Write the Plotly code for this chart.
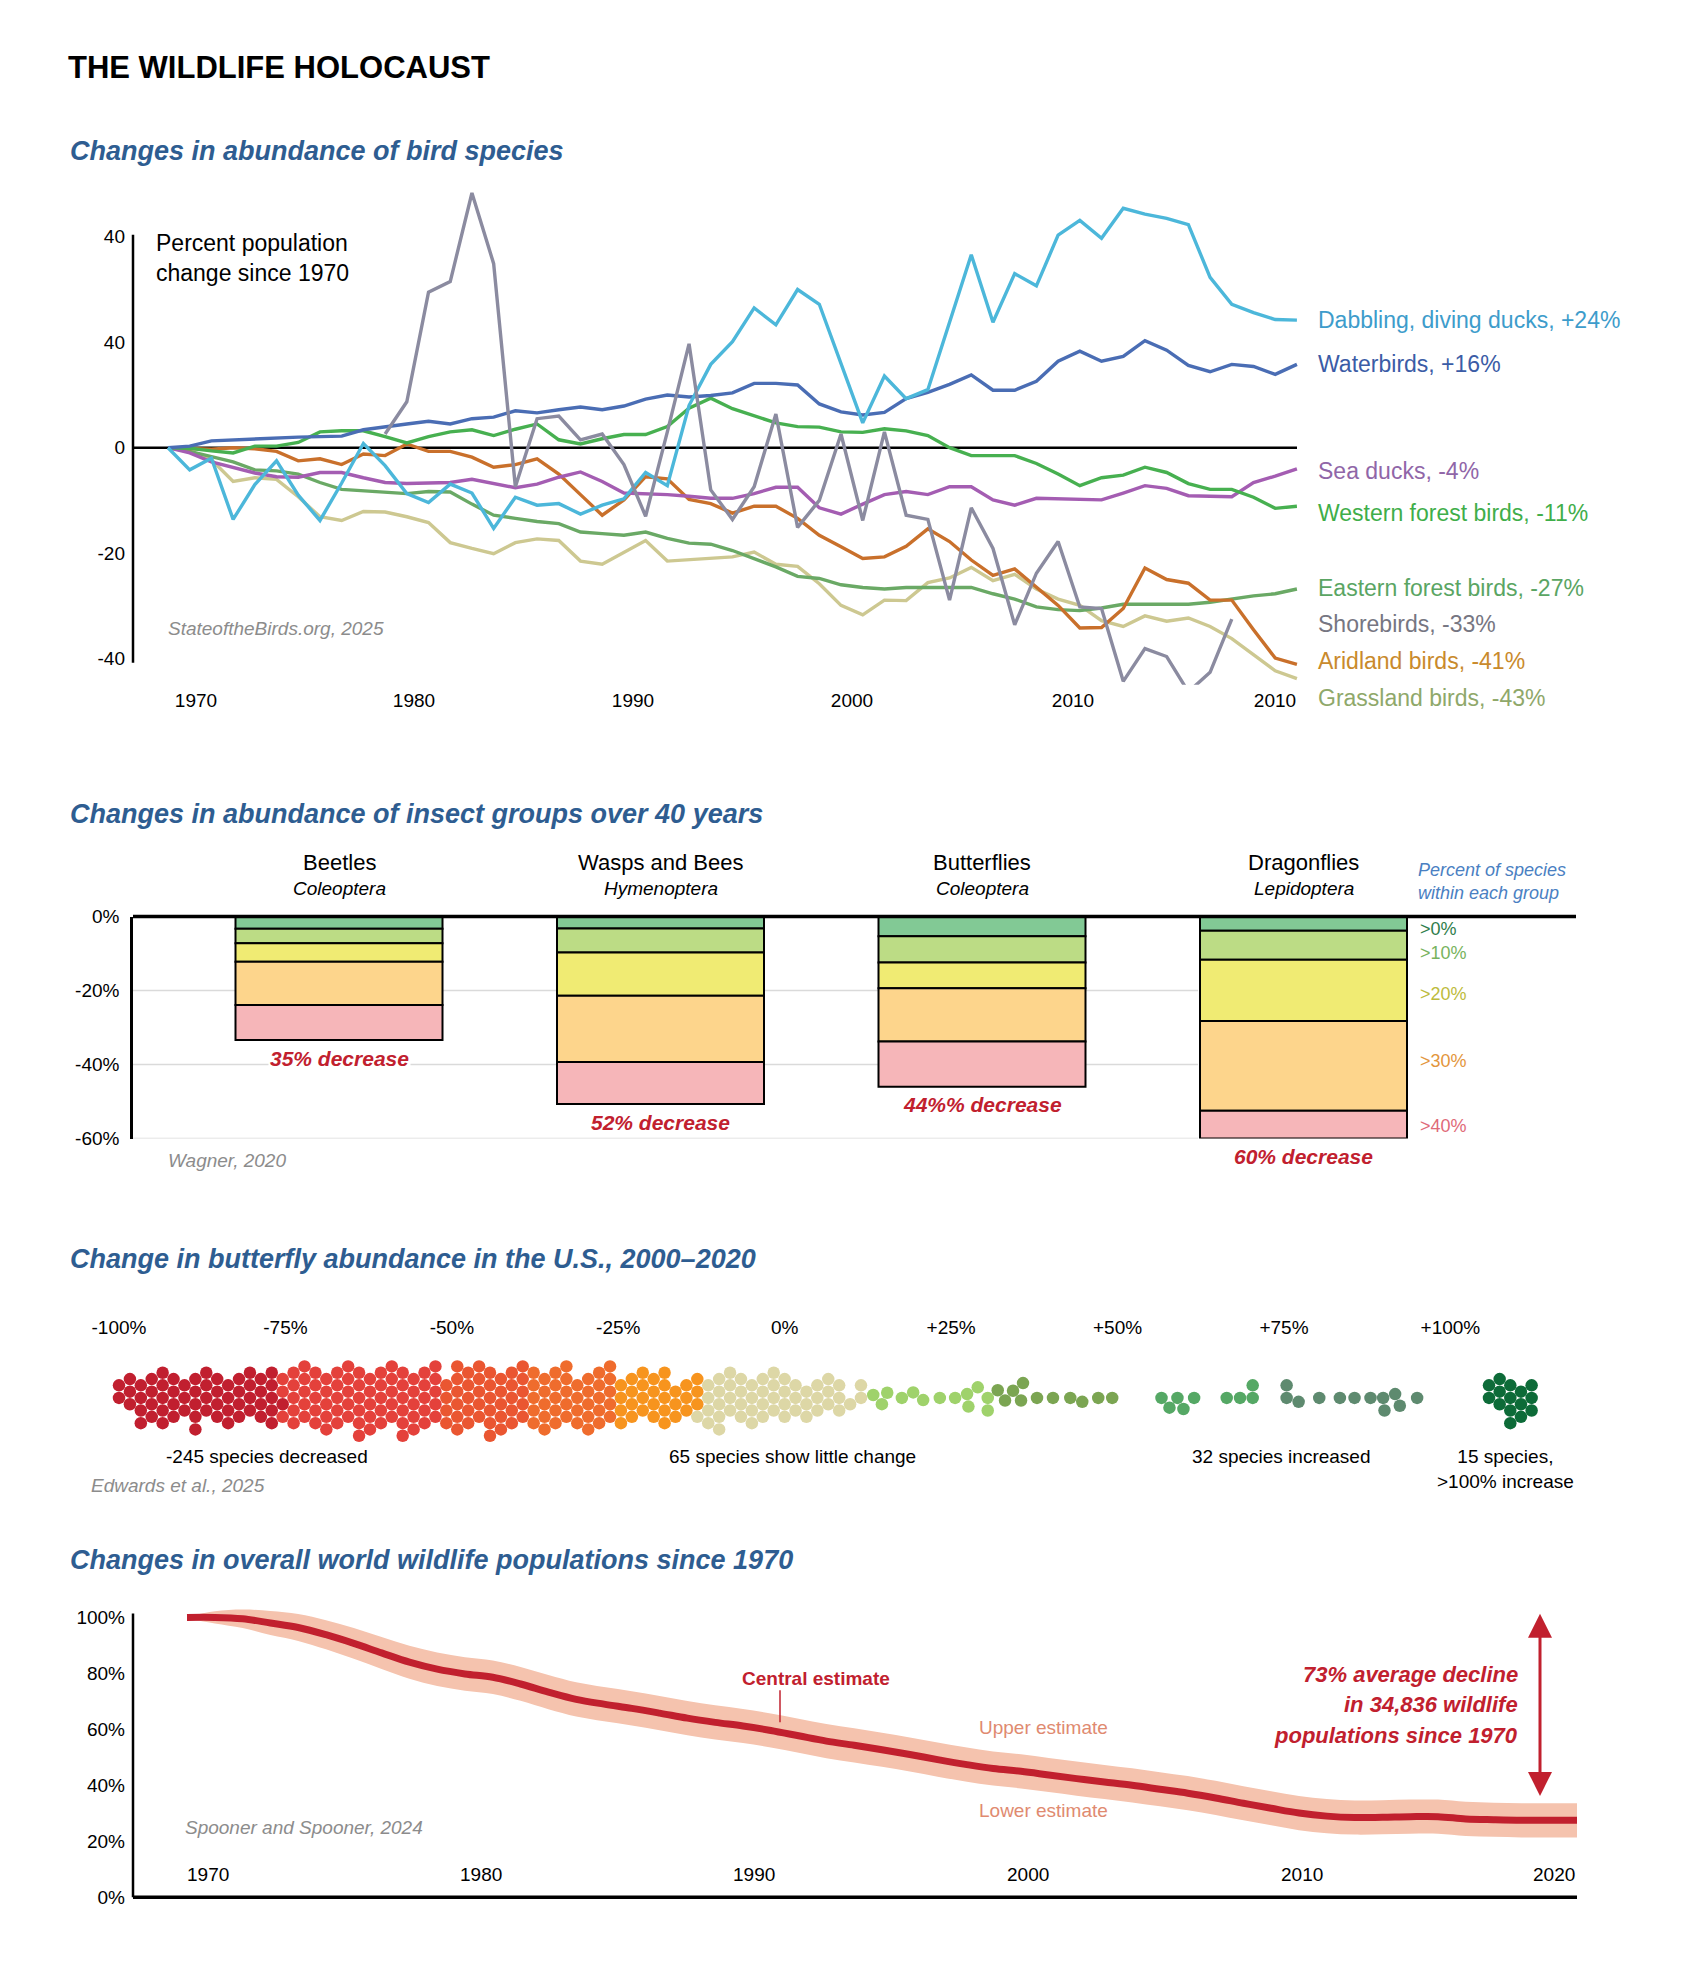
import math
import plotly.graph_objects as go

W, H = 1682, 1984
FONT = "Liberation Sans, Arial, Helvetica, sans-serif"

# ======================= DATA =======================
# --- Birds: percent population change since 1970 ---
bird_years = list(range(1970, 2023))
dabbling = [0, -4.2, -2.0, -13.6, -7.0, -2.5, -9.0, -13.8, -6.7, 0.8,
            -3.4, -8.7, -10.4, -6.9, -8.6, -15.3, -9.4, -10.9, -10.6, -12.6,
            -10.9, -9.7, -4.7, -7.2, 8.0, 15.8, 20.1, 26.5, 23.3, 30.0,
            27.2, 16.0, 4.7, 13.6, 9.3, 11.0, 24.0, 36.6, 23.8, 33.0,
            30.7, 40.3, 43.1, 39.7, 45.4, 44.3, 43.5, 42.3, 32.3, 27.2,
            25.6, 24.3, 24.2]
waterbirds = [0, 0.3, 1.3, 1.5, 1.7, 1.9, 2.0, 2.1, 2.2, 3.4,
              4.0, 4.5, 5.0, 4.5, 5.5, 5.8, 7.0, 6.6, 7.2, 7.7,
              7.2, 7.9, 9.2, 10.0, 9.6, 9.9, 10.4, 12.2, 12.2, 11.9,
              8.3, 6.8, 6.2, 6.7, 9.3, 10.5, 12.0, 13.8, 10.9, 10.9,
              12.6, 16.4, 18.3, 16.4, 17.3, 20.3, 18.5, 15.6, 14.4, 15.8,
              15.4, 13.9, 15.8]
sea_ducks = [0, -1.0, -2.7, -3.8, -4.8, -5.5, -5.6, -4.7, -4.7, -5.7,
             -6.6, -6.8, -6.7, -6.6, -6.0, -6.8, -7.6, -6.9, -5.6, -4.6,
             -6.4, -8.6, -8.7, -8.9, -9.2, -9.6, -9.6, -8.7, -7.5, -7.5,
             -11.4, -12.6, -10.7, -8.9, -8.3, -8.9, -7.4, -7.4, -9.9, -10.9,
             -9.6, -9.7, -9.9, -9.9, -8.6, -7.2, -7.7, -9.1, -9.2, -9.3,
             -6.6, -5.4, -4.0]
western_forest = [0, -0.1, -0.6, -1.0, 0.3, 0.3, 1.0, 3.0, 3.2, 3.2,
                  2.1, 0.9, 2.1, 3.0, 3.4, 2.3, 3.5, 4.5, 1.5, 0.7,
                  1.7, 2.5, 2.5, 4.0, 7.5, 9.4, 7.4, 6.0, 4.7, 4.0,
                  3.9, 3.0, 2.9, 3.6, 3.2, 2.3, 0.0, -1.5, -1.5, -1.5,
                  -3.0, -5.0, -7.2, -5.7, -5.2, -3.7, -4.7, -6.8, -7.9, -7.9,
                  -9.4, -11.5, -11.1]
eastern_forest = [0, -0.7, -1.7, -2.7, -4.2, -4.4, -5.0, -6.6, -7.9, -8.2,
                  -8.4, -8.7, -8.3, -8.4, -10.7, -12.8, -13.4, -14.0, -14.4, -16.0,
                  -16.3, -16.6, -16.0, -17.2, -18.1, -18.3, -19.5, -21.0, -22.6, -24.4,
                  -24.8, -26.0, -26.5, -26.8, -26.5, -26.5, -26.5, -26.5, -27.7, -28.7,
                  -30.2, -30.7, -30.9, -30.4, -29.7, -29.7, -29.7, -29.7, -29.3, -28.7,
                  -28.1, -27.7, -26.8]
shorebirds = [None] * 10 + [
    2.6, 8.7, 29.5, 31.5, 48.3, 34.9, -7.4, 5.5, 6.0, 1.5,
    2.6, -3.2, -13.0, 3.0, 19.7, -8.0, -13.6, -7.4, 6.4, -15.1,
    -10.0, 2.6, -13.8, 3.0, -12.8, -13.6, -28.9, -11.4, -19.1, -33.6,
    -23.8, -17.8, -30.2, -30.5, -44.3, -38.1, -39.6, -46.3, -42.6, -32.5] + [None] * 3
aridland = [0, -0.2, -0.3, 0.0, -0.2, -0.7, -2.5, -2.1, -3.2, -1.2,
            -1.5, 0.7, -0.7, -0.7, -1.8, -3.7, -3.2, -2.1, -5.0, -8.9,
            -12.8, -9.9, -5.5, -5.9, -9.8, -10.6, -12.4, -11.1, -11.1, -13.4,
            -16.6, -18.8, -21.0, -20.7, -18.7, -15.4, -17.8, -21.3, -24.2, -23.0,
            -26.5, -29.9, -34.2, -34.1, -30.5, -22.8, -25.0, -25.7, -28.9, -28.9,
            -34.5, -39.9, -41.1]
grassland = [0, -0.8, -2.3, -6.4, -5.7, -6.0, -9.3, -13.1, -13.8, -12.1,
             -12.2, -13.1, -14.2, -18.0, -19.1, -20.1, -18.0, -17.3, -17.6, -21.5,
             -22.1, -19.9, -17.6, -21.5, -21.2, -21.0, -20.7, -19.8, -22.1, -22.5,
             -25.8, -29.9, -31.7, -28.9, -29.0, -25.6, -24.7, -22.7, -25.2, -24.0,
             -26.8, -28.7, -29.9, -32.8, -33.9, -31.9, -32.9, -32.3, -33.9, -36.2,
             -39.3, -42.3, -43.8]
bird_labels = ["Dabbling, diving ducks, +24%", "Waterbirds, +16%", "Sea ducks, -4%",
               "Western forest birds, -11%", "Eastern forest birds, -27%",
               "Shorebirds, -33%", "Aridland birds, -41%", "Grassland birds, -43%"]
bird_xtick_text = ["1970", "1980", "1990", "2000", "2010", "2010"]
bird_ytick_vals = [-40, -20, 0, 20, 40]
bird_ytick_text = ["-40", "-20", "0", "40", "40"]

# --- Insects: lower edge (percent) of each tier, per group ---
insect_groups = ["Beetles", "Wasps and Bees", "Butterflies", "Dragonflies"]
insect_latin = ["Coleoptera", "Hymenoptera", "Coleoptera", "Lepidoptera"]
tier_names = [">0%", ">10%", ">20%", ">30%", ">40%"]
bottom_gt0 = [-3.3, -3.2, -5.3, -3.8]
bottom_gt10 = [-7.2, -9.7, -12.4, -11.7]
bottom_gt20 = [-12.2, -21.4, -19.4, -28.2]
bottom_gt30 = [-23.9, -39.3, -33.8, -52.5]
bottom_gt40 = [-33.4, -50.7, -46.0, -60.0]
decrease_labels = ["35% decrease", "52% decrease", "44%% decrease", "60% decrease"]
insect_ytick_vals = [0, -20, -40, -60]
insect_ytick_text = ["0%", "-20%", "-40%", "-60%"]

# --- Butterflies: percent change per species (1% bins + counts for dense part) ---
dk_red_bins = list(range(-100, -75))
dk_red_counts = [1, 2, 2, 3, 2, 3, 2, 3, 2, 3, 2, 3, 2, 3, 2, 3, 2, 3, 2, 3, 2, 3, 2, 3, 2]
red_bins = list(range(-75, -51))
red_counts = [3, 3, 3, 3, 3, 4, 3, 3, 3, 3, 3, 4, 3, 3, 3, 3, 3, 4, 3, 3, 3, 3, 3, 3]
verm_bins = list(range(-51, -38))
verm_counts = [3, 3, 4, 3, 3, 3, 3, 4, 3, 3, 3, 3, 3]
orred_bins = list(range(-38, -25))
orred_counts = [3, 3, 3, 3, 3, 3, 3, 3, 3, 3, 3, 3, 3]
orange_bins = list(range(-25, -12))
orange_counts = [2, 3, 2, 3, 2, 3, 2, 3, 2, 2, 2, 2, 2]
beige_bins = list(range(-12, 13))
beige_counts = [3, 3, 3, 2, 3, 2, 3, 2, 3, 2, 3, 2, 2, 2, 2, 2, 2, 2, 2, 1, 2, 1, 1, 1, 1]
lt_green_vals = [13.3, 14.6, 15.4, 17.6, 19.3, 20.8, 23.3, 25.6, 27.4, 27.6, 29.0, 30.5, 30.5]
olive_vals = [32.0, 33.1, 34.3, 35.5, 35.8, 37.9, 40.3, 42.9, 44.7, 47.1, 49.2]
mid_green_vals = [56.6, 57.8, 59.0, 59.9, 61.5, 66.4, 68.4, 70.3, 70.3]
gray_green_vals = [75.4, 75.4, 77.2, 80.3, 83.4, 85.6, 88.0, 89.9, 90.1, 91.7, 92.4, 95.0]
dk_green_vals = [105.8, 105.8, 107.4, 107.4, 107.4, 109.0, 109.0, 109.0, 109.0,
                 110.6, 110.6, 110.6, 112.2, 112.2, 112.2]
butterfly_tick_vals = [-100, -75, -50, -25, 0, 25, 50, 75, 100]
butterfly_tick_text = ["-100%", "-75%", "-50%", "-25%", "0%", "+25%", "+50%", "+75%", "+100%"]

# --- World wildlife (Living Planet Index), percent of 1970 ---
wl_years = list(range(1970, 2021))
wl_central = [100, 100, 99.5, 98, 96.4, 93.8, 90.7, 87.3, 84, 81.5,
              79.8, 78.6, 76.2, 73.3, 70.7, 69, 67.5, 65.8, 64, 62.5,
              61.2, 59.6, 57.7, 55.8, 54.3, 52.7, 51, 49.2, 47.5, 46,
              45, 43.7, 42.4, 41.2, 40, 38.6, 37.2, 35.5, 33.6, 31.8,
              30.1, 29, 28.5, 28.6, 28.8, 28.8, 28, 27.7, 27.5, 27.5,
              27.5]
wl_upper = [100.3, 102.2, 102.8, 102.3, 101.2, 99.0, 96.2, 93.0, 89.9, 87.5,
            85.8, 84.6, 82.3, 79.4, 76.8, 75.1, 73.6, 71.9, 70.1, 68.6,
            67.3, 65.7, 63.8, 61.9, 60.4, 58.8, 57.1, 55.3, 53.6, 52.1,
            51.1, 49.8, 48.5, 47.3, 46.1, 44.7, 43.3, 41.6, 39.7, 37.9,
            36.2, 35.1, 34.6, 34.7, 34.9, 34.9, 34.1, 33.8, 33.6, 33.6,
            33.6]
wl_lower = [99.7, 97.8, 96.2, 93.7, 91.6, 88.6, 85.2, 81.6, 78.1, 75.5,
            73.8, 72.6, 70.2, 67.2, 64.6, 62.9, 61.4, 59.7, 57.9, 56.4,
            55.1, 53.5, 51.6, 49.7, 48.2, 46.6, 44.9, 43.1, 41.4, 39.9,
            38.9, 37.6, 36.3, 35.1, 33.9, 32.5, 31.1, 29.4, 27.5, 25.7,
            24.0, 22.9, 22.4, 22.5, 22.7, 22.7, 21.9, 21.6, 21.4, 21.4,
            21.4]
wl_ytick_vals = [0, 20, 40, 60, 80, 100]
wl_ytick_text = ["0%", "20%", "40%", "60%", "80%", "100%"]
wl_xtick_text = ["1970", "1980", "1990", "2000", "2010", "2020"]
decline_text = ["73% average decline", "in 34,836 wildlife", "populations since 1970"]

# ======================= STYLE / LAYOUT HELPERS =======================
BLUE_T = "#2e5d91"
CRIMSON = "#c1202e"
GRAY_T = "#8c8c8c"

fig = go.Figure()
ann = []
shp = []


def fx(px):
    # target pixel column -> paper fraction (compensates page offset)
    return (px - 8) / W


def fy(py):
    # target pixel row -> paper fraction (compensates page offset)
    return 1 - (67 + (py - 83.5) / 0.98968) / H


def label(s, px, py, size=19, color="#1a1a1a", xanchor="left", bold=False,
          italic=False, bg=None, align="left"):
    if bold:
        s = "<b>" + s + "</b>"
    if italic:
        s = "<i>" + s + "</i>"
    a = dict(text=s, x=fx(px), y=fy(py), xref="paper", yref="paper", showarrow=False,
             xanchor=xanchor, yanchor="middle", align=align,
             font=dict(family=FONT, size=size, color=color))
    if bg:
        a["bgcolor"] = bg
    ann.append(a)


def hline(px0, px1, py, color="black", width=2.5, layer="above"):
    shp.append(dict(type="line", xref="paper", yref="paper", x0=fx(px0), x1=fx(px1),
                    y0=fy(py), y1=fy(py), line=dict(color=color, width=width), layer=layer))


def vline(px, py0, py1, color="black", width=2.5, layer="above"):
    shp.append(dict(type="line", xref="paper", yref="paper", x0=fx(px), x1=fx(px),
                    y0=fy(py0), y1=fy(py1), line=dict(color=color, width=width), layer=layer))


# Title + section headings
label("THE WILDLIFE HOLOCAUST", 66, 67, size=31, color="black", bold=True)
label("Changes in abundance of bird species", 68, 150, size=27, color=BLUE_T, bold=True, italic=True)
label("Changes in abundance of insect groups over 40 years", 68, 813, size=27, color=BLUE_T, bold=True, italic=True)
label("Change in butterfly abundance in the U.S., 2000\u20132020", 68, 1259, size=27, color=BLUE_T, bold=True, italic=True)
label("Changes in overall world wildlife populations since 1970", 68, 1560, size=27, color=BLUE_T, bold=True, italic=True)

# ======================= 1. BIRDS =======================
B1_PX1970, B1_PPY = 168, 21.71
B1_ZERO, B1_PPU = 447, 5.275


def b1_year(px):
    return 1970 + (px - B1_PX1970) / B1_PPY


def b1_val(py):
    return (B1_ZERO - py) / B1_PPU


bird_series = [dabbling, waterbirds, sea_ducks, western_forest, eastern_forest,
               shorebirds, aridland, grassland]
bird_line_colors = ["#4cb7da", "#4a6db4", "#a45db2", "#47b050", "#6aa965",
                    "#8b8ba0", "#c9702b", "#cdc891"]
bird_text_colors = ["#3d9ccb", "#3b5ca6", "#9066a8", "#3fae4a", "#5aa563",
                    "#767682", "#c98a2c", "#8fa86a"]
draw_order = [7, 4, 6, 2, 3, 1, 0, 5]
for k in draw_order:
    fig.add_trace(go.Scatter(x=bird_years, y=bird_series[k], mode="lines",
                             line=dict(color=bird_line_colors[k], width=3.4),
                             xaxis="x", yaxis="y", hoverinfo="skip", showlegend=False))

label_py = [319, 363, 470, 512, 587, 623, 660, 697]
for k, t in enumerate(bird_labels):
    label(t, 1316, label_py[k], size=23, color=bird_text_colors[k])

vline(133, 234, 662, width=2.5)
shp.append(dict(type="line", xref="paper", yref="y", x0=fx(133), x1=fx(1297), y0=0, y1=0,
                line=dict(color="black", width=2.5), layer="below"))
label("Percent population<br>change since 1970", 154, 257, size=23, color="black")
label("StateoftheBirds.org, 2025", 166, 628, size=19, color=GRAY_T, italic=True)

b1_xtick_px = [196, 414, 633, 852, 1073, 1275]

# ======================= 2. INSECTS =======================
I_CAT0, I_STEP = 339, 321.5
bar_w = 207 / I_STEP
tier_colors = ["#82c995", "#bcdc85", "#f0eb73", "#fdd58c", "#f6b6b9"]
tier_text_colors = ["#2f7d4b", "#78b35d", "#bdbb3c", "#e3963c", "#e06a78"]
tier_bottoms = [bottom_gt0, bottom_gt10, bottom_gt20, bottom_gt30, bottom_gt40]
cat_x = list(range(len(insect_groups)))
prev = [0.0] * len(insect_groups)
for k, bottoms in enumerate(tier_bottoms):
    fig.add_trace(go.Bar(x=cat_x, y=[b - p for b, p in zip(bottoms, prev)], base=prev,
                         width=bar_w, marker=dict(color=tier_colors[k], line=dict(color="black", width=2)),
                         xaxis="x2", yaxis="y2", hoverinfo="skip", showlegend=False))
    prev = bottoms

for g in [-20, -40, -60]:
    shp.append(dict(type="line", xref="paper", yref="y2", x0=fx(133), x1=fx(1198), y0=g, y1=g,
                    line=dict(color="#dadada", width=1.6), layer="below"))
hline(133, 1576, 916, width=3.5)

for i, (g, lt) in enumerate(zip(insect_groups, insect_latin)):
    cx = I_CAT0 + I_STEP * i
    label(g, cx, 862, size=22, color="black", xanchor="center")
    label(lt, cx, 888, size=19, color="black", xanchor="center", italic=True)
    ann.append(dict(text="<b><i>" + decrease_labels[i] + "</i></b>", x=i, y=bottom_gt40[i],
                    xref="x2", yref="y2", yshift=-18, showarrow=False, xanchor="center",
                    yanchor="middle", bgcolor="white",
                    font=dict(family=FONT, size=21, color=CRIMSON)))

tier_py = [928, 952, 993, 1060, 1125]
for k, t in enumerate(tier_names):
    label(t, 1418, tier_py[k], size=18, color=tier_text_colors[k])
label("<i>Percent of species<br>within each group</i>", 1416, 881, size=18, color="#4a80c2")
label("Wagner, 2020", 227, 1160, size=19, color=GRAY_T, xanchor="center", italic=True)

# ======================= 3. BUTTERFLY SWARM =======================
D_PX0, D_PPP = 119, 6.657  # px of -100%, px per percent
DOT_D = 12.6


def d_pct(px):
    return -100 + (px - D_PX0) / D_PPP


def expand(bins, counts):
    out = []
    for b, c in zip(bins, counts):
        out += [b - 0.5 + (j + 0.5) / c for j in range(c)]
    return out


def lattice_for(k, n):
    # n vertical slots in hex column k, filled from the centre outwards
    pts = []
    s = 1 if (k // 2) % 2 == 0 else -1
    if k % 2 == 0:
        pts.append(0.0)
        m = 1
        while len(pts) < n:
            pts += [s * m * DOT_D, -s * m * DOT_D]
            m += 1
    else:
        m = 0
        while len(pts) < n:
            pts += [s * (m + 0.5) * DOT_D, -s * (m + 0.5) * DOT_D]
            m += 1
    return pts[:n]


dense_groups = [
    (expand(dk_red_bins, dk_red_counts), "#c11f2f"),
    (expand(red_bins, red_counts), "#e4413b"),
    (expand(verm_bins, verm_counts), "#ea5631"),
    (expand(orred_bins, orred_counts), "#ef6c2d"),
    (expand(orange_bins, orange_counts), "#f7941e"),
    (expand(beige_bins, beige_counts), "#ddd7a6"),
]
sparse_groups = [
    (lt_green_vals, "#9fd26b"),
    (olive_vals, "#7ba552"),
    (mid_green_vals, "#55a865"),
    (gray_green_vals, "#5e8a6f"),
]

dot_x, dot_y, dot_c = [], [], []
placed = []

# dense part: hexagonal dot-plot columns
cw = DOT_D * 0.866
dense = []
for vals, col in dense_groups:
    dense += [(v, col) for v in vals]
dense.sort()
x_start = dense[0][0] * D_PPP
columns = {}
for v, col in dense:
    k = int(round((v * D_PPP - x_start) / cw))
    columns.setdefault(k, []).append(col)
for k in sorted(columns):
    cols = columns[k]
    lat = lattice_for(k, len(cols))
    cx = x_start + k * cw
    for j, col in enumerate(cols):
        dot_x.append(cx / D_PPP)
        dot_y.append(lat[j])
        dot_c.append(col)
        placed.append((cx, lat[j]))

# >100% cluster: one hex column per distinct value
green_cols = sorted(set(dk_green_vals))
for k, v in enumerate(green_cols):
    n = dk_green_vals.count(v)
    lat = lattice_for(k, n)
    for y in lat:
        dot_x.append(v)
        dot_y.append(y)
        dot_c.append("#0d6b38")

# sparse part: beeswarm around the centre line
sparse = []
for vals, col in sparse_groups:
    sparse += [(v, col) for v in vals]
sparse.sort()
placed.sort()
for n_i, (v, col) in enumerate(sparse):
    x = v * D_PPP
    iv = []
    for qx, qy in placed:
        dx = x - qx
        if abs(dx) < DOT_D:
            h = math.sqrt(DOT_D * DOT_D - dx * dx)
            iv.append((qy - h, qy + h))
    cands = [0.0] + [a for a, b in iv] + [b for a, b in iv]
    sgn = 1 if n_i % 2 else -1
    cands.sort(key=lambda c: (round(abs(c), 6), sgn * c))
    yy = 0.0
    for c in cands:
        if all(c <= a + 1e-9 or c >= b - 1e-9 for a, b in iv):
            yy = c
            break
    placed.append((x, yy))
    dot_x.append(v)
    dot_y.append(yy)
    dot_c.append(col)

fig.add_trace(go.Scatter(x=dot_x, y=dot_y, mode="markers",
                         marker=dict(size=12.5, color=dot_c, line=dict(width=0)),
                         xaxis="x3", yaxis="y3", hoverinfo="skip", showlegend=False))

label("-245 species decreased", 267, 1456, size=19, color="black", xanchor="center")
label("65 species show little change", 792, 1456, size=19, color="black", xanchor="center")
label("32 species increased", 1281, 1456, size=19, color="black", xanchor="center")
label("15 species,<br>>100% increase", 1505, 1469, size=19, color="black", xanchor="center", align="center")
label("Edwards et al., 2025", 89, 1485, size=19, color=GRAY_T, italic=True)

# ======================= 4. WORLD WILDLIFE =======================
W_PX1970, W_PPY = 187, 27.8
W_ZERO, W_PPU = 1897, 2.8


def w_year(px):
    return 1970 + (px - W_PX1970) / W_PPY


fig.add_trace(go.Scatter(x=wl_years, y=wl_lower, mode="lines", line=dict(width=0, shape="spline"),
                         xaxis="x4", yaxis="y4", hoverinfo="skip", showlegend=False))
fig.add_trace(go.Scatter(x=wl_years, y=wl_upper, mode="lines", line=dict(width=0, shape="spline"),
                         fill="tonexty", fillcolor="#f5c3ae",
                         xaxis="x4", yaxis="y4", hoverinfo="skip", showlegend=False))
fig.add_trace(go.Scatter(x=wl_years, y=wl_central, mode="lines",
                         line=dict(color=CRIMSON, width=7, shape="spline"),
                         xaxis="x4", yaxis="y4", hoverinfo="skip", showlegend=False))

vline(133, 1613, 1897, width=2.5)
hline(133, 1577, 1897, width=3.5)
for t, px in zip(wl_xtick_text, [208, 481, 754, 1028, 1302, 1554]):
    label(t, px, 1874, size=19, color="black", xanchor="center")

label("Central estimate", 816, 1678, size=19, color=CRIMSON, xanchor="center", bold=True)
vline(780, 1690, 1722, color=CRIMSON, width=1.5)
label("Upper estimate", 1043, 1727, size=19, color="#e08a70", xanchor="center")
label("Lower estimate", 1043, 1810, size=19, color="#e08a70", xanchor="center")
for t, py in zip(decline_text, [1674, 1704, 1735]):
    label(t, 1520, py, size=22, color=CRIMSON, xanchor="right", bold=True, italic=True)
label("Spooner and Spooner, 2024", 183, 1827, size=19, color=GRAY_T, italic=True)

arrow_year = w_year(1540)
ann.append(dict(text="", x=arrow_year, y=101.3, ax=arrow_year, ay=35.7,
                xref="x4", yref="y4", axref="x4", ayref="y4", showarrow=True,
                arrowhead=2, startarrowhead=2, arrowside="end+start",
                arrowsize=1.6, startarrowsize=1.6, arrowwidth=3, arrowcolor=CRIMSON))

# ======================= AXES =======================
tickfont = dict(family=FONT, size=19, color="black")
fig.update_layout(
    width=W, height=H, margin=dict(l=0, r=0, t=0, b=0),
    paper_bgcolor="white", plot_bgcolor="white", showlegend=False,
    barmode="overlay",
    xaxis=dict(domain=[fx(133), fx(1600)], range=[b1_year(133), b1_year(1600)], anchor="y",
               showgrid=False, zeroline=False, showline=False, ticks="",
               tickvals=[b1_year(p) for p in b1_xtick_px], ticktext=bird_xtick_text,
               tickfont=tickfont, ticklabelstandoff=2, fixedrange=True),
    yaxis=dict(domain=[fy(684), fy(175)], range=[b1_val(684), b1_val(175)], anchor="x",
               showgrid=False, zeroline=False, showline=False, ticks="",
               tickvals=bird_ytick_vals, ticktext=bird_ytick_text,
               tickfont=tickfont, ticklabelstandoff=7, fixedrange=True),
    xaxis2=dict(domain=[fx(133), fx(1576)],
                range=[(133 - I_CAT0) / I_STEP, (1576 - I_CAT0) / I_STEP], anchor="y2",
                visible=False, fixedrange=True),
    yaxis2=dict(domain=[fy(1138), fy(916)], range=[-60, 0], anchor="x2",
                showgrid=False, zeroline=False, showline=True, linecolor="black", linewidth=2.5,
                ticks="", tickvals=insect_ytick_vals, ticktext=insect_ytick_text,
                tickfont=tickfont, ticklabelstandoff=7, fixedrange=True),
    xaxis3=dict(domain=[fx(60), fx(1640)], range=[d_pct(60), d_pct(1640)], anchor="y3",
                side="top", showgrid=False, zeroline=False, showline=False, ticks="",
                tickvals=butterfly_tick_vals, ticktext=butterfly_tick_text,
                tickfont=tickfont, ticklabelstandoff=2, fixedrange=True),
    yaxis3=dict(domain=[fy(1455), fy(1340)], range=[-57.5, 57.5], anchor="x3",
                visible=False, fixedrange=True),
    xaxis4=dict(domain=[fx(133), fx(1595)], range=[w_year(133), w_year(1595)], anchor="y4",
                visible=False, fixedrange=True),
    yaxis4=dict(domain=[fy(1897), fy(1600)], range=[0, (W_ZERO - 1600) / W_PPU], anchor="x4",
                showgrid=False, zeroline=False, showline=False, ticks="",
                tickvals=wl_ytick_vals, ticktext=wl_ytick_text,
                tickfont=tickfont, ticklabelstandoff=7, fixedrange=True),
    annotations=ann, shapes=shp,
)

fig.write_html("out.html")
